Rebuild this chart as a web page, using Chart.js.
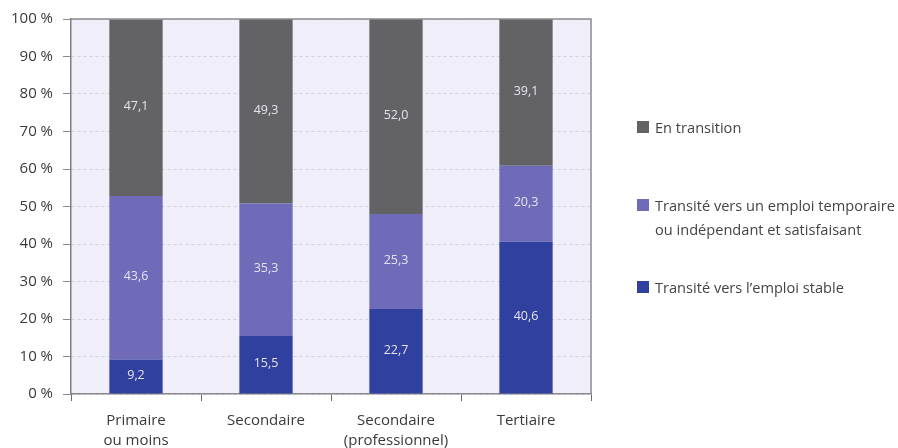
<!DOCTYPE html>
<html>
<head>
<meta charset="utf-8">
<script src="https://cdn.jsdelivr.net/npm/chart.js@4.4.1/dist/chart.umd.min.js"></script>
<style>
    body { margin: 0; background: #fff; font-family: "Open Sans", sans-serif; }
    #wrap { position: relative; width: 898px; height: 448px; }
    #legend { position: absolute; left: 637px; top: 0; font-size: 14.6px; color: #444; }
    .item { position: absolute; left: 0; white-space: nowrap; line-height: 24px; }
    .item span.box { position: absolute; left: 0; top: 6px; width: 12px; height: 12px; }
    .item span.txt { display: block; padding-left: 18px; }
</style>
</head>
<body>
<div id="wrap">
    <canvas id="chart"></canvas>
    <div id="legend"></div>
</div>
<script>
// Chart data
const categories = [['Primaire', 'ou moins'], 'Secondaire', ['Secondaire', '(professionnel)'], 'Tertiaire'];
const stableValues = [9.2, 15.5, 22.7, 40.6];
const temporaryValues = [43.6, 35.3, 25.3, 20.3];
const transitionValues = [47.1, 49.3, 52.0, 39.1];
const yTicks = [0, 10, 20, 30, 40, 50, 60, 70, 80, 90, 100];

const seriesNames = ['Transité vers l’emploi stable',
    'Transité vers un emploi temporaire<br>ou indépendant et satisfaisant',
    'En transition'];
const seriesColors = ['#30409e', '#6f6bb8', '#636365'];

// Fill plot area and draw top/right frame
const plotFrame = {
    id: 'plotFrame',
    beforeDraw(chart) {
        const { ctx, chartArea: a } = chart;
        ctx.save();
        ctx.fillStyle = '#f0eef8';
        ctx.fillRect(a.left, a.top, a.right - a.left, a.bottom - a.top);
        ctx.restore();
    },
    afterDraw(chart) {
        const { ctx, chartArea: a } = chart;
        ctx.save();
        ctx.strokeStyle = '#8a8a8e';
        ctx.lineWidth = 1.5;
        ctx.beginPath();
        ctx.moveTo(a.left, a.top);
        ctx.lineTo(a.right, a.top);
        ctx.lineTo(a.right, a.bottom);
        ctx.stroke();
        ctx.restore();
    }
};

// Value labels inside each segment
const valueLabels = {
    id: 'valueLabels',
    afterDatasetsDraw(chart) {
        const ctx = chart.ctx;
        ctx.save();
        ctx.font = '12.5px "Open Sans", sans-serif';
        ctx.fillStyle = '#e6e4f0';
        ctx.textAlign = 'center';
        ctx.textBaseline = 'middle';
        chart.data.datasets.forEach((ds, i) => {
            chart.getDatasetMeta(i).data.forEach((bar, j) => {
                const mid = (bar.y + bar.base) / 2;
                ctx.fillText(ds.data[j].toFixed(1).replace('.', ','), bar.x, mid - 1);
            });
        });
        ctx.restore();
    }
};

const ctx = document.getElementById('chart').getContext('2d');
new Chart(ctx, {
    type: 'bar',
    data: {
        labels: categories,
        datasets: [
            { label: seriesNames[0], data: stableValues, backgroundColor: seriesColors[0] },
            { label: seriesNames[1], data: temporaryValues, backgroundColor: seriesColors[1] },
            { label: seriesNames[2], data: transitionValues, backgroundColor: seriesColors[2] }
        ]
    },
    options: {
        responsive: true,
        maintainAspectRatio: false,
        animation: false,
        layout: { padding: { top: 17, right: 307, left: 0, bottom: 0 } },
        datasets: { bar: { categoryPercentage: 1, barPercentage: 0.41 } },
        plugins: {
            legend: { display: false },
            tooltip: { enabled: false }
        },
        scales: {
            x: {
                stacked: true,
                afterFit(scale) { scale.height = 54; },
                grid: { drawOnChartArea: false, offset: true, tickLength: 7, color: '#6a6a6e' },
                border: { color: '#8a8a8e', width: 1.5 },
                ticks: {
                    color: '#3a3a3a',
                    font: { family: 'Open Sans', size: 15, lineHeight: 1.3 },
                    padding: 10,
                    maxRotation: 0
                }
            },
            y: {
                stacked: true,
                min: 0,
                max: 100,
                afterFit(scale) { scale.width = 71; },
                afterBuildTicks(scale) { scale.ticks = yTicks.map(v => ({ value: v })); },
                grid: { color: '#d4d2de', tickColor: '#8a8a8e', tickLength: 8 },
                border: { color: '#7e7e82', width: 1.5, dash: [3, 3] },
                ticks: {
                    color: '#3a3a3a',
                    font: { family: 'Open Sans', size: 15 },
                    padding: 10,
                    callback: v => v + ' %'
                }
            }
        }
    },
    plugins: [plotFrame, valueLabels]
});

// HTML legend, top to bottom as in the stack
const legendTops = [115, 193, 275];
const legend = document.getElementById('legend');
[2, 1, 0].forEach((k, i) => {
    const item = document.createElement('div');
    item.className = 'item';
    item.style.top = legendTops[i] + 'px';
    item.innerHTML = `<span class="box" style="background:${seriesColors[k]}"></span><span class="txt">${seriesNames[k]}</span>`;
    legend.appendChild(item);
});
</script>
</body>
</html>
